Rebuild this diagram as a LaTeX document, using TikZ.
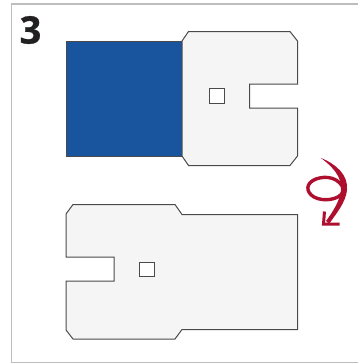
\documentclass[tikz,border=0pt]{standalone}
\usepackage{fontspec}
\setmainfont[BoldFeatures={FakeBold=0.7}]{Open Sans}
\definecolor{frameC}{HTML}{BDBDBF}
\definecolor{blueC}{HTML}{19559E}
\definecolor{sheetC}{HTML}{F5F5F5}
\definecolor{lineC}{HTML}{4A4A4A}
\definecolor{redC}{HTML}{AE0F2E}
\definecolor{digitC}{HTML}{222021}
\tikzset{
  sheet/.style={draw=lineC,fill=sheetC,line width=1pt,line join=miter},
  hole/.style={draw=lineC,fill=white,line width=1pt},
  blueface/.style={draw=lineC,fill=blueC,line width=0.8pt},
  framer/.style={draw=frameC,line width=1.3pt},
  turn/.style={draw=redC,line width=3.4pt,line cap=round,line join=round}
}
\begin{document}
\begin{tikzpicture}[x=1pt,y=-1pt]
\useasboundingbox (0,0) rectangle (358,364);
\draw[framer] (358,4) -- (11.8,4) -- (11.8,362.8) -- (358,362.8);
\node[anchor=center,inner sep=0pt,text=digitC,font=\fontsize{38}{38}\selectfont\bfseries] (num) at (30.5,30) {3};
\draw[blueface] (66.5,41) rectangle (182,156);
\draw[sheet] (182,41) -- (188.5,31.5) -- (290,31.5) -- (297.5,41) -- (297.5,84) -- (249.5,84) -- (249.5,108) -- (297.5,108) -- (297.5,156) -- (290,165.5) -- (188.5,165.5) -- (182,156) -- cycle;
\draw[hole] (209,88.5) rectangle (224,103);
\draw[sheet] (66,214) -- (73,204.5) -- (175,204.5) -- (182,214.5) -- (297.5,214.5) -- (297.5,329.5) -- (182,329.5) -- (175,339) -- (73,339) -- (66,330) -- (66,281) -- (114,281) -- (114,257) -- (66,257) -- cycle;
\draw[hole] (139.5,262) rectangle (154.5,276.5);
\draw[turn] (343,192) .. controls (339,200) and (323,202) .. (314,197) .. controls (305.5,192) and (305.5,183) .. (316,179) .. controls (327,175) and (340,178) .. (344,190);
\fill[redC] (321,158) .. controls (336,164) and (348.5,175) .. (347,190) .. controls (346,202) and (336,214) .. (329,224) -- (326,221) .. controls (332,213) and (340,201) .. (341,190) .. controls (342,177) and (333,167) .. (321,158) -- cycle;
\draw[turn,line width=3pt,line cap=butt,line join=miter] (324.5,211.5) -- (323.5,224) -- (339.5,224);
\end{tikzpicture}
\end{document}
